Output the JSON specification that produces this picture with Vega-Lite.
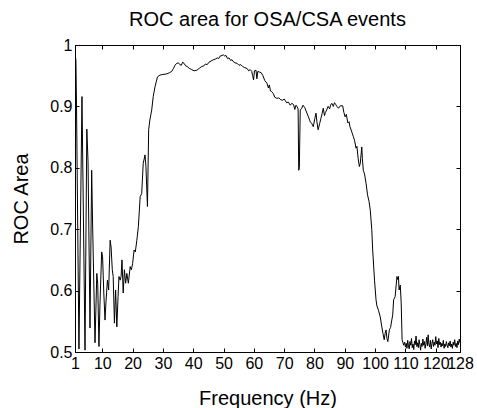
{
 "$schema": "https://vega.github.io/schema/vega-lite/v6.json",
 "width": 385, "height": 307,
 "autosize": {"type": "none"},
 "padding": {"left": 75, "top": 45, "right": 17, "bottom": 56},
 "background": "white",
 "title": {"text": "ROC area for OSA/CSA events", "font": "Liberation Sans", "fontSize": 20, "fontWeight": "normal", "color": "black", "offset": 7},
 "config": {
  "view": {"stroke": "black", "strokeWidth": 1},
  "axis": {"grid": false, "domainColor": "black", "tickColor": "black", "labelColor": "black", "titleColor": "black",
   "labelFont": "Liberation Sans", "labelFontSize": 16, "titleFont": "Liberation Sans", "titleFontSize": 20, "titleFontWeight": "normal",
   "tickSize": -4, "domainWidth": 1, "tickWidth": 1}
 },
 "data": {"values": [
  {"f":1.0,"v":0.985},{"f":1.3,"v":0.975},{"f":1.5,"v":0.90},{"f":2.3,"v":0.505},{"f":3.3,"v":0.916},{"f":4.3,"v":0.503},
  {"f":4.9,"v":0.863},{"f":5.3,"v":0.81},{"f":5.95,"v":0.539},{"f":6.5,"v":0.796},{"f":6.8,"v":0.71},{"f":7.6,"v":0.515},
  {"f":8.2,"v":0.628},{"f":8.5,"v":0.61},{"f":8.9,"v":0.509},{"f":9.25,"v":0.58},{"f":9.8,"v":0.663},{"f":10.1,"v":0.655},
  {"f":10.5,"v":0.596},{"f":10.9,"v":0.552},{"f":11.2,"v":0.58},{"f":11.7,"v":0.617},{"f":12.1,"v":0.601},{"f":12.6,"v":0.682},
  {"f":12.9,"v":0.671},{"f":13.3,"v":0.634},{"f":13.6,"v":0.623},{"f":14.0,"v":0.547},{"f":14.4,"v":0.601},{"f":14.8,"v":0.541},
  {"f":15.2,"v":0.59},{"f":15.5,"v":0.623},{"f":15.9,"v":0.617},{"f":16.2,"v":0.623},{"f":16.5,"v":0.65},{"f":16.9,"v":0.596},
  {"f":17.3,"v":0.634},{"f":17.7,"v":0.612},{"f":18.1,"v":0.628},{"f":18.6,"v":0.612},{"f":19.2,"v":0.639},{"f":19.6,"v":0.634},
  {"f":20.0,"v":0.644},{"f":20.5,"v":0.666},{"f":20.9,"v":0.663},{"f":21.4,"v":0.682},{"f":21.9,"v":0.704},{"f":22.5,"v":0.753},
  {"f":23.0,"v":0.758},{"f":23.5,"v":0.807},{"f":24.1,"v":0.821},{"f":24.4,"v":0.802},{"f":24.9,"v":0.737},{"f":25.3,"v":0.862},
  {"f":25.7,"v":0.878},{"f":26.3,"v":0.894},{"f":26.8,"v":0.916},{"f":27.4,"v":0.932},{"f":27.8,"v":0.94},{"f":28.2,"v":0.948},
  {"f":29.0,"v":0.951},{"f":30.0,"v":0.952},{"f":31.3,"v":0.953},{"f":32.2,"v":0.955},{"f":32.9,"v":0.957},{"f":33.5,"v":0.962},
  {"f":34.0,"v":0.967},{"f":34.5,"v":0.97},{"f":35.1,"v":0.971},{"f":35.6,"v":0.968},{"f":36.1,"v":0.967},{"f":36.5,"v":0.972},
  {"f":37.0,"v":0.970},{"f":37.5,"v":0.966},{"f":38.0,"v":0.965},{"f":38.7,"v":0.962},{"f":39.5,"v":0.960},{"f":40.3,"v":0.958},
  {"f":41.2,"v":0.959},{"f":42.0,"v":0.962},{"f":42.8,"v":0.965},{"f":43.5,"v":0.966},{"f":44.0,"v":0.969},{"f":44.6,"v":0.968},
  {"f":45.2,"v":0.972},{"f":45.9,"v":0.974},{"f":46.6,"v":0.976},{"f":47.3,"v":0.977},{"f":47.9,"v":0.979},{"f":48.4,"v":0.978},
  {"f":48.9,"v":0.982},{"f":49.5,"v":0.983},{"f":49.9,"v":0.984},{"f":50.4,"v":0.982},{"f":50.8,"v":0.983},{"f":51.3,"v":0.978},
  {"f":51.8,"v":0.979},{"f":52.3,"v":0.975},{"f":52.8,"v":0.976},{"f":53.2,"v":0.973},{"f":53.8,"v":0.971},{"f":54.5,"v":0.970},
  {"f":55.1,"v":0.967},{"f":55.7,"v":0.968},{"f":56.3,"v":0.965},{"f":57.0,"v":0.963},{"f":57.7,"v":0.962},{"f":58.3,"v":0.958},
  {"f":58.8,"v":0.960},{"f":59.3,"v":0.957},{"f":59.6,"v":0.950},{"f":59.9,"v":0.943},{"f":60.2,"v":0.958},{"f":60.7,"v":0.959},
  {"f":61.0,"v":0.945},{"f":61.3,"v":0.957},{"f":61.8,"v":0.956},{"f":62.4,"v":0.955},{"f":63.0,"v":0.950},{"f":63.6,"v":0.942},
  {"f":64.3,"v":0.938},{"f":64.8,"v":0.930},{"f":65.1,"v":0.935},{"f":65.5,"v":0.925},{"f":65.9,"v":0.924},{"f":66.4,"v":0.921},
  {"f":66.9,"v":0.915},{"f":67.6,"v":0.913},{"f":68.2,"v":0.914},{"f":68.8,"v":0.911},{"f":69.5,"v":0.910},{"f":70.0,"v":0.912},
  {"f":70.3,"v":0.910},{"f":70.8,"v":0.906},{"f":71.4,"v":0.907},{"f":72.0,"v":0.902},{"f":72.5,"v":0.905},{"f":73.1,"v":0.903},
  {"f":73.5,"v":0.895},{"f":73.9,"v":0.902},{"f":74.2,"v":0.900},{"f":74.6,"v":0.896},{"f":74.8,"v":0.796},{"f":75.0,"v":0.80},
  {"f":75.3,"v":0.894},{"f":75.8,"v":0.897},{"f":76.2,"v":0.902},{"f":76.8,"v":0.898},{"f":77.5,"v":0.889},{"f":78.0,"v":0.883},
  {"f":78.6,"v":0.875},{"f":79.1,"v":0.872},{"f":79.6,"v":0.867},{"f":80.1,"v":0.880},{"f":80.5,"v":0.889},{"f":80.8,"v":0.875},
  {"f":81.2,"v":0.862},{"f":81.7,"v":0.872},{"f":82.1,"v":0.880},{"f":82.5,"v":0.888},{"f":82.9,"v":0.897},{"f":83.3,"v":0.885},
  {"f":83.6,"v":0.890},{"f":84.0,"v":0.894},{"f":84.5,"v":0.900},{"f":85.0,"v":0.896},{"f":85.3,"v":0.902},{"f":85.7,"v":0.905},
  {"f":86.2,"v":0.900},{"f":86.6,"v":0.906},{"f":87.0,"v":0.903},{"f":87.4,"v":0.900},{"f":87.9,"v":0.897},{"f":88.5,"v":0.901},
  {"f":89.3,"v":0.901},{"f":89.7,"v":0.890},{"f":90.1,"v":0.883},{"f":90.5,"v":0.887},{"f":91.0,"v":0.873},{"f":91.4,"v":0.875},
  {"f":91.7,"v":0.867},{"f":92.2,"v":0.860},{"f":92.8,"v":0.851},{"f":93.2,"v":0.845},{"f":93.7,"v":0.832},{"f":94.0,"v":0.835},
  {"f":94.4,"v":0.815},{"f":94.8,"v":0.802},{"f":95.1,"v":0.807},{"f":95.6,"v":0.834},{"f":95.8,"v":0.815},{"f":96.1,"v":0.796},
  {"f":96.5,"v":0.790},{"f":97.0,"v":0.775},{"f":97.5,"v":0.756},{"f":98.0,"v":0.745},{"f":98.4,"v":0.731},{"f":98.9,"v":0.699},
  {"f":99.2,"v":0.666},{"f":99.8,"v":0.617},{"f":100.3,"v":0.585},{"f":100.6,"v":0.575},{"f":101.1,"v":0.568},{"f":101.7,"v":0.557},
  {"f":102.2,"v":0.541},{"f":102.6,"v":0.530},{"f":103.0,"v":0.520},{"f":103.3,"v":0.530},{"f":103.6,"v":0.536},{"f":103.9,"v":0.522},
  {"f":104.2,"v":0.517},{"f":104.7,"v":0.536},{"f":105.1,"v":0.540},{"f":105.5,"v":0.552},{"f":105.8,"v":0.56},{"f":106.1,"v":0.585},
  {"f":106.6,"v":0.590},{"f":107.2,"v":0.623},{"f":107.5,"v":0.618},{"f":107.7,"v":0.623},{"f":107.9,"v":0.601},{"f":108.3,"v":0.609},
  {"f":108.6,"v":0.580},{"f":108.9,"v":0.520},{"f":109.2,"v":0.515},{"f":109.4,"v":0.511},
  {"f":109.75,"v":0.516},{"f":110.0,"v":0.508},{"f":110.25,"v":0.514},{"f":110.5,"v":0.506},{"f":110.75,"v":0.519},{"f":111.0,"v":0.510},
  {"f":111.25,"v":0.505},{"f":111.5,"v":0.517},{"f":111.75,"v":0.511},{"f":112.0,"v":0.522},{"f":112.25,"v":0.507},{"f":112.5,"v":0.513},
  {"f":112.75,"v":0.504},{"f":113.0,"v":0.518},{"f":113.25,"v":0.512},{"f":113.5,"v":0.526},{"f":113.75,"v":0.509},{"f":114.0,"v":0.515},
  {"f":114.25,"v":0.507},{"f":114.5,"v":0.520},{"f":114.75,"v":0.512},{"f":115.0,"v":0.503},{"f":115.25,"v":0.514},{"f":115.5,"v":0.509},
  {"f":115.75,"v":0.521},{"f":116.0,"v":0.511},{"f":116.25,"v":0.517},{"f":116.5,"v":0.506},{"f":116.75,"v":0.513},{"f":117.0,"v":0.524},
  {"f":117.25,"v":0.510},{"f":117.5,"v":0.528},{"f":117.75,"v":0.512},{"f":118.0,"v":0.508},{"f":118.25,"v":0.519},{"f":118.5,"v":0.505},
  {"f":118.75,"v":0.514},{"f":119.0,"v":0.520},{"f":119.25,"v":0.509},{"f":119.5,"v":0.516},{"f":119.75,"v":0.511},{"f":120.0,"v":0.525},
  {"f":120.25,"v":0.513},{"f":120.5,"v":0.518},{"f":120.75,"v":0.507},{"f":121.0,"v":0.522},{"f":121.25,"v":0.512},{"f":121.5,"v":0.516},
  {"f":121.75,"v":0.508},{"f":122.0,"v":0.514},{"f":122.25,"v":0.510},{"f":122.5,"v":0.519},{"f":122.75,"v":0.506},{"f":123.0,"v":0.513},
  {"f":123.25,"v":0.509},{"f":123.5,"v":0.517},{"f":123.75,"v":0.511},{"f":124.0,"v":0.507},{"f":124.25,"v":0.515},{"f":124.5,"v":0.510},
  {"f":124.75,"v":0.518},{"f":125.0,"v":0.508},{"f":125.25,"v":0.513},{"f":125.5,"v":0.506},{"f":125.75,"v":0.516},{"f":126.0,"v":0.511},
  {"f":126.25,"v":0.520},{"f":126.5,"v":0.509},{"f":126.75,"v":0.514},{"f":127.0,"v":0.507},{"f":127.25,"v":0.518},{"f":127.5,"v":0.512},
  {"f":127.75,"v":0.521},{"f":128.0,"v":0.515}
 ]},
 "layer": [
  {
   "mark": {"type": "line", "color": "black", "strokeWidth": 1, "clip": true},
   "encoding": {
    "x": {"field": "f", "type": "quantitative", "scale": {"domain": [1, 128], "nice": false, "zero": false},
     "axis": {"values": [1,10,20,30,40,50,60,70,80,90,100,110,120,128], "title": "Frequency (Hz)", "labelOverlap": false, "labelFlush": false, "labelPadding": 7, "titlePadding": 17}},
    "y": {"field": "v", "type": "quantitative", "scale": {"domain": [0.5, 1], "nice": false, "zero": false},
     "axis": {"values": [0.5,0.6,0.7,0.8,0.9,1], "format": "~g", "title": "ROC Area", "labelPadding": 7, "titlePadding": 18, "labelFlush": false}}
   }
  },
  {
   "mark": {"type": "line", "opacity": 0},
   "encoding": {
    "x": {"field": "f", "type": "quantitative", "axis": {"orient": "top", "values": [1,10,20,30,40,50,60,70,80,90,100,110,120,128], "labels": false, "title": null}},
    "y": {"field": "v", "type": "quantitative", "axis": {"orient": "right", "values": [0.5,0.6,0.7,0.8,0.9,1], "labels": false, "title": null}}
   }
  }
 ],
 "resolve": {"axis": {"x": "independent", "y": "independent"}}
}
